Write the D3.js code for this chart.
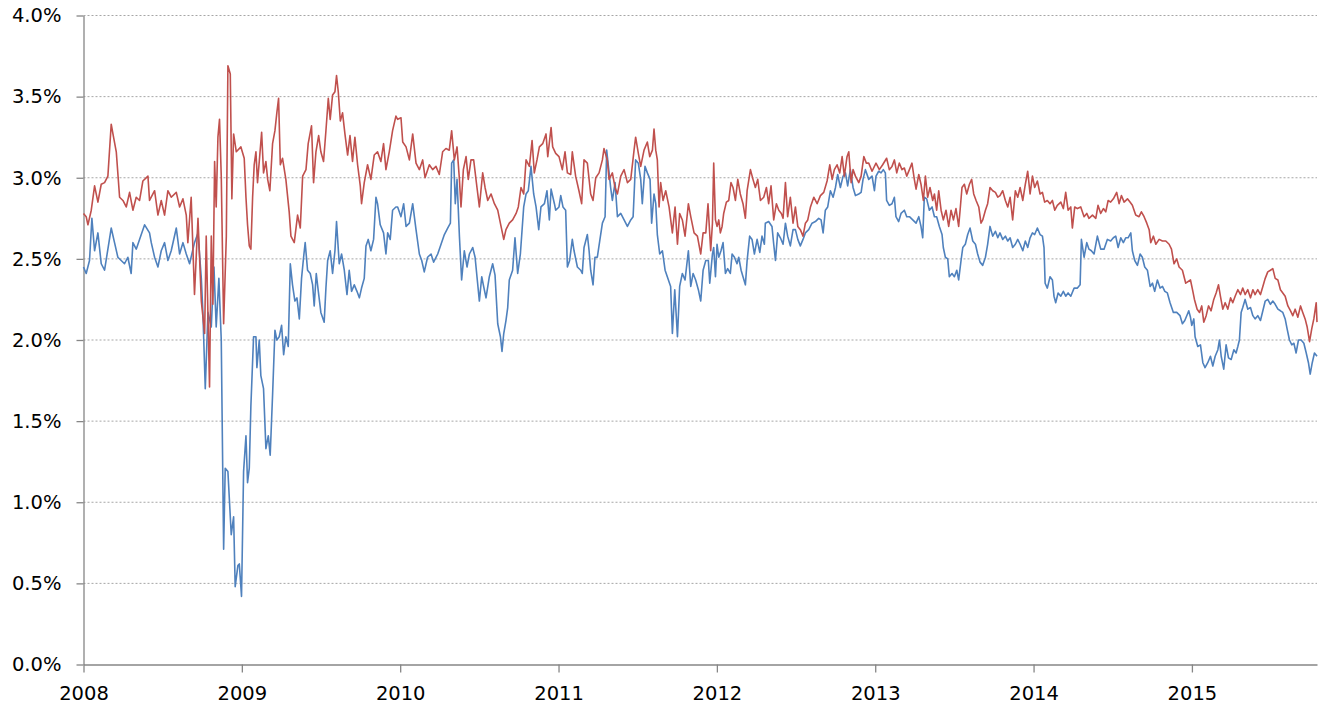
<!DOCTYPE html>
<html>
<head>
<meta charset="utf-8">
<script src="https://cdn.jsdelivr.net/npm/d3@7"></script>
<style>
  body { margin: 0; background: #fff; }
  .TickLabel { font-family: "DejaVu Sans", sans-serif; font-size: 19.5px; fill: #000; }
  .Grid { stroke: #a6a6a6; stroke-width: 1; stroke-dasharray: 2,2; }
</style>
</head>
<body>
<div id="ChartContainer"></div>
<script>
// x = decimal year, y = percent
var redSeries = [
  [2008.000,2.78],[2008.017,2.76],[2008.028,2.71],[2008.049,2.80],[2008.070,2.95],[2008.091,2.85],[2008.112,2.96],[2008.133,2.97],
  [2008.154,3.01],[2008.175,3.33],[2008.186,3.27],[2008.207,3.16],[2008.228,2.88],[2008.249,2.86],[2008.270,2.82],[2008.291,2.91],
  [2008.312,2.80],[2008.333,2.88],[2008.354,2.86],[2008.375,2.98],[2008.407,3.01],[2008.417,2.86],[2008.449,2.92],[2008.470,2.77],
  [2008.491,2.86],[2008.512,2.77],[2008.533,2.92],[2008.554,2.88],[2008.586,2.91],[2008.607,2.82],[2008.628,2.87],[2008.649,2.77],
  [2008.659,2.60],[2008.680,2.88],[2008.701,2.28],[2008.723,2.75],[2008.744,2.24],[2008.765,2.04],[2008.775,2.64],[2008.796,1.71],
  [2008.807,2.64],[2008.817,2.22],[2008.828,3.10],[2008.838,2.82],[2008.849,3.25],[2008.859,3.36],[2008.870,3.01],[2008.885,2.10],
  [2008.902,2.64],[2008.912,3.69],[2008.927,3.64],[2008.937,2.87],[2008.948,3.27],[2008.965,3.16],
  [2008.994,3.19],[2009.015,3.12],[2009.026,2.88],[2009.036,2.71],[2009.047,2.58],[2009.057,2.56],[2009.068,2.88],[2009.078,3.08],
  [2009.089,3.16],[2009.099,2.97],[2009.110,3.10],[2009.125,3.28],[2009.137,3.03],[2009.152,3.10],[2009.163,2.99],[2009.177,2.92],
  [2009.194,3.21],[2009.209,3.29],[2009.221,3.40],[2009.232,3.49],[2009.243,3.08],[2009.257,3.12],[2009.278,2.99],[2009.299,2.79],
  [2009.310,2.64],[2009.331,2.60],[2009.352,2.77],[2009.369,2.69],[2009.384,3.01],[2009.405,3.05],[2009.419,3.21],[2009.440,3.32],
  [2009.453,2.97],[2009.468,3.16],[2009.485,3.26],[2009.499,3.16],[2009.516,3.10],[2009.531,3.29],[2009.546,3.49],[2009.558,3.36],
  [2009.573,3.51],[2009.588,3.53],[2009.598,3.63],[2009.609,3.53],[2009.622,3.35],[2009.636,3.40],[2009.651,3.27],[2009.668,3.14],
  [2009.683,3.26],[2009.699,3.10],[2009.714,3.25],[2009.731,3.08],[2009.748,2.95],[2009.756,2.84],[2009.773,2.97],[2009.794,3.08],
  [2009.815,2.99],[2009.836,3.14],[2009.857,3.16],[2009.878,3.10],[2009.895,3.21],[2009.910,3.05],[2009.931,3.16],[2009.952,3.29],
  [2009.973,3.38],
  [2009.984,3.36],[2010.005,3.37],[2010.016,3.22],[2010.037,3.19],[2010.058,3.11],[2010.079,3.27],[2010.100,3.09],[2010.121,3.05],
  [2010.142,3.11],[2010.157,3.00],[2010.184,3.08],[2010.205,3.05],[2010.226,3.07],[2010.247,3.02],[2010.268,3.16],[2010.289,3.18],
  [2010.310,3.17],[2010.325,3.29],[2010.342,3.11],[2010.359,3.19],[2010.374,2.99],[2010.384,2.82],[2010.399,3.05],[2010.416,3.13],
  [2010.430,2.99],[2010.447,3.11],[2010.464,3.11],[2010.485,2.94],[2010.500,2.82],[2010.521,3.03],[2010.536,2.94],[2010.553,2.86],
  [2010.574,2.90],[2010.595,2.84],[2010.616,2.80],[2010.637,2.70],[2010.654,2.62],[2010.668,2.68],[2010.689,2.72],[2010.710,2.74],
  [2010.732,2.78],[2010.746,2.82],[2010.763,2.94],[2010.780,2.90],[2010.795,3.11],[2010.816,3.07],[2010.833,3.23],[2010.847,3.03],
  [2010.864,3.11],[2010.879,3.19],[2010.900,3.21],[2010.921,3.27],[2010.932,3.13],[2010.953,3.31],[2010.963,3.19],
  [2010.982,3.15],[2011.003,3.13],[2011.024,3.05],[2011.041,3.16],[2011.056,3.03],[2011.077,3.02],[2011.087,3.16],[2011.108,3.01],
  [2011.129,2.92],[2011.146,2.84],[2011.161,3.11],[2011.182,3.09],[2011.203,2.90],[2011.218,2.86],[2011.235,3.00],[2011.256,3.03],
  [2011.277,3.11],[2011.287,3.18],[2011.308,3.11],[2011.319,2.99],[2011.340,3.03],[2011.357,2.94],[2011.372,2.90],[2011.393,3.01],
  [2011.414,3.05],[2011.435,2.97],[2011.456,2.99],[2011.477,3.17],[2011.487,3.25],[2011.504,3.15],[2011.519,3.07],[2011.540,3.17],
  [2011.561,3.22],[2011.576,3.13],[2011.593,3.17],[2011.603,3.30],[2011.614,3.17],[2011.624,3.11],[2011.635,2.82],[2011.645,2.97],
  [2011.660,2.86],[2011.677,2.92],[2011.698,2.82],[2011.719,2.66],[2011.736,2.82],[2011.751,2.59],[2011.765,2.78],[2011.782,2.74],
  [2011.799,2.64],[2011.820,2.84],[2011.835,2.76],[2011.856,2.66],[2011.877,2.64],[2011.898,2.53],[2011.913,2.66],[2011.930,2.66],
  [2011.944,2.84],[2011.961,2.55],[2011.972,2.72],
  [2011.980,3.09],[2011.991,2.74],[2012.001,2.70],[2012.012,2.74],[2012.022,2.66],[2012.033,2.70],[2012.043,2.78],[2012.060,2.85],
  [2012.075,2.86],[2012.089,2.97],[2012.102,2.94],[2012.117,2.86],[2012.132,2.99],[2012.148,2.90],[2012.165,2.84],[2012.180,2.75],
  [2012.191,2.92],[2012.212,3.05],[2012.228,2.99],[2012.243,2.94],[2012.258,2.99],[2012.275,2.86],[2012.296,2.88],[2012.313,2.94],
  [2012.327,2.84],[2012.342,2.95],[2012.359,2.74],[2012.376,2.84],[2012.391,2.80],[2012.407,2.78],[2012.418,2.75],[2012.433,2.97],
  [2012.447,2.76],[2012.464,2.88],[2012.481,2.72],[2012.496,2.82],[2012.511,2.70],[2012.527,2.68],[2012.544,2.64],[2012.559,2.72],
  [2012.574,2.74],[2012.591,2.82],[2012.612,2.88],[2012.633,2.84],[2012.654,2.89],[2012.675,2.91],[2012.696,2.98],[2012.713,3.08],
  [2012.728,2.99],[2012.742,3.05],[2012.759,3.08],[2012.776,3.03],[2012.791,3.13],[2012.805,3.01],[2012.822,3.13],[2012.833,3.16],
  [2012.848,2.97],[2012.860,3.05],[2012.875,3.01],[2012.896,2.97],[2012.911,3.01],[2012.928,3.13],[2012.944,3.09],[2012.959,3.09],
  [2012.980,3.04],
  [2013.005,3.09],[2013.026,3.05],[2013.047,3.08],[2013.072,3.12],[2013.089,3.05],[2013.106,3.07],[2013.121,3.11],[2013.136,3.03],
  [2013.152,3.09],[2013.169,3.05],[2013.184,3.06],[2013.199,3.01],[2013.216,3.05],[2013.232,3.09],[2013.247,2.99],[2013.258,2.93],
  [2013.275,3.02],[2013.289,2.96],[2013.304,2.86],[2013.317,3.01],[2013.331,2.88],[2013.346,2.94],[2013.363,2.86],[2013.374,2.90],
  [2013.388,2.80],[2013.401,2.92],[2013.416,2.80],[2013.430,2.74],[2013.447,2.80],[2013.464,2.70],[2013.479,2.80],[2013.494,2.74],
  [2013.510,2.81],[2013.527,2.70],[2013.536,2.80],[2013.548,2.94],[2013.563,2.96],[2013.578,2.90],[2013.595,2.96],[2013.609,2.99],
  [2013.622,2.90],[2013.637,2.86],[2013.654,2.82],[2013.668,2.72],[2013.679,2.74],[2013.696,2.80],[2013.710,2.84],[2013.725,2.94],
  [2013.742,2.92],[2013.759,2.91],[2013.774,2.88],[2013.788,2.89],[2013.805,2.92],[2013.822,2.86],[2013.837,2.82],[2013.852,2.88],
  [2013.868,2.74],[2013.885,2.92],[2013.900,2.88],[2013.915,2.94],[2013.932,2.86],[2013.948,2.96],[2013.963,3.04],[2013.978,2.90],
  [2013.993,3.01],[2014.007,2.94],[2014.024,2.98],[2014.041,2.90],[2014.056,2.91],[2014.070,2.85],[2014.087,2.86],[2014.104,2.84],
  [2014.119,2.86],[2014.134,2.80],[2014.150,2.83],[2014.172,2.85],[2014.188,2.81],[2014.203,2.91],[2014.218,2.80],[2014.235,2.82],
  [2014.245,2.69],[2014.260,2.82],[2014.277,2.81],[2014.298,2.82],[2014.319,2.76],[2014.336,2.78],[2014.350,2.75],[2014.372,2.77],
  [2014.393,2.75],[2014.407,2.83],[2014.424,2.78],[2014.441,2.81],[2014.456,2.79],[2014.471,2.86],[2014.487,2.85],[2014.504,2.87],
  [2014.525,2.91],[2014.540,2.84],[2014.555,2.89],[2014.572,2.85],[2014.593,2.87],[2014.609,2.85],[2014.624,2.83],[2014.645,2.77],
  [2014.666,2.76],[2014.681,2.79],[2014.698,2.76],[2014.715,2.72],[2014.730,2.68],[2014.740,2.60],[2014.757,2.64],[2014.772,2.59],
  [2014.793,2.62],[2014.814,2.61],[2014.835,2.61],[2014.856,2.59],[2014.871,2.56],[2014.887,2.47],[2014.904,2.50],[2014.919,2.45],
  [2014.940,2.43],[2014.961,2.35],
  [2014.991,2.37],[2015.006,2.30],[2015.016,2.25],[2015.033,2.19],[2015.048,2.17],[2015.062,2.21],[2015.075,2.11],[2015.090,2.15],
  [2015.105,2.21],[2015.121,2.18],[2015.138,2.25],[2015.153,2.29],[2015.168,2.34],[2015.180,2.27],[2015.195,2.19],[2015.210,2.23],
  [2015.227,2.19],[2015.244,2.26],[2015.258,2.23],[2015.273,2.27],[2015.290,2.31],[2015.307,2.28],[2015.321,2.32],[2015.336,2.28],
  [2015.353,2.31],[2015.370,2.26],[2015.385,2.31],[2015.399,2.28],[2015.416,2.31],[2015.433,2.28],[2015.448,2.33],[2015.463,2.38],
  [2015.479,2.42],[2015.496,2.43],[2015.511,2.44],[2015.526,2.38],[2015.543,2.37],[2015.559,2.31],[2015.574,2.29],[2015.589,2.27],
  [2015.606,2.21],[2015.623,2.18],[2015.637,2.15],[2015.652,2.19],[2015.669,2.14],[2015.686,2.21],[2015.700,2.17],[2015.715,2.13],
  [2015.728,2.08],[2015.743,1.99],[2015.757,2.07],[2015.770,2.13],[2015.785,2.23],[2015.790,2.11]
]

var blueSeries = [
  [2008.000,2.45],[2008.017,2.41],[2008.038,2.49],[2008.053,2.75],[2008.070,2.55],[2008.091,2.66],[2008.112,2.47],[2008.133,2.43],
  [2008.154,2.56],[2008.175,2.69],[2008.196,2.60],[2008.217,2.51],[2008.238,2.49],[2008.259,2.47],[2008.280,2.51],[2008.301,2.41],
  [2008.312,2.60],[2008.333,2.56],[2008.354,2.62],[2008.386,2.71],[2008.417,2.66],[2008.428,2.60],[2008.449,2.51],[2008.470,2.45],
  [2008.491,2.55],[2008.512,2.60],[2008.533,2.49],[2008.554,2.55],[2008.586,2.69],[2008.607,2.53],[2008.628,2.60],[2008.649,2.53],
  [2008.670,2.47],[2008.701,2.60],[2008.723,2.66],[2008.744,2.38],[2008.754,2.17],[2008.769,1.70],[2008.786,2.17],[2008.807,2.08],
  [2008.824,2.45],[2008.838,2.08],[2008.855,2.38],[2008.870,2.00],[2008.885,0.71],[2008.895,1.21],[2008.912,1.19],[2008.933,0.80],
  [2008.948,0.91],[2008.958,0.48],[2008.975,0.61],
  [2008.984,0.62],[2008.998,0.42],[2009.011,1.19],[2009.026,1.41],[2009.036,1.12],[2009.047,1.21],[2009.057,1.59],[2009.074,2.02],
  [2009.089,2.02],[2009.095,1.83],[2009.110,2.00],[2009.120,1.78],[2009.137,1.70],[2009.152,1.33],[2009.167,1.41],[2009.179,1.29],
  [2009.194,1.66],[2009.209,2.06],[2009.221,2.00],[2009.236,2.02],[2009.251,2.09],[2009.264,1.91],[2009.278,2.02],[2009.293,1.96],
  [2009.306,2.47],[2009.320,2.34],[2009.335,2.24],[2009.348,2.26],[2009.363,2.13],[2009.377,2.38],[2009.390,2.51],[2009.400,2.60],
  [2009.415,2.43],[2009.432,2.41],[2009.447,2.34],[2009.457,2.21],[2009.470,2.41],[2009.483,2.30],[2009.499,2.17],[2009.520,2.11],
  [2009.531,2.32],[2009.542,2.49],[2009.558,2.55],[2009.573,2.41],[2009.588,2.55],[2009.598,2.73],[2009.615,2.47],[2009.630,2.53],
  [2009.647,2.43],[2009.664,2.28],[2009.678,2.43],[2009.693,2.30],[2009.710,2.34],[2009.727,2.30],[2009.742,2.26],[2009.756,2.32],
  [2009.773,2.38],[2009.784,2.58],[2009.798,2.62],[2009.815,2.55],[2009.832,2.62],[2009.847,2.88],[2009.857,2.84],[2009.874,2.71],
  [2009.895,2.66],[2009.910,2.53],[2009.921,2.66],[2009.937,2.62],[2009.952,2.80],[2009.973,2.82],
  [2009.984,2.82],[2010.005,2.76],[2010.022,2.84],[2010.037,2.70],[2010.058,2.72],[2010.079,2.84],[2010.100,2.68],[2010.121,2.53],
  [2010.136,2.49],[2010.152,2.42],[2010.173,2.51],[2010.195,2.53],[2010.211,2.48],[2010.237,2.53],[2010.258,2.59],[2010.279,2.65],
  [2010.300,2.69],[2010.317,2.72],[2010.325,3.09],[2010.338,3.11],[2010.348,2.84],[2010.359,2.99],[2010.374,2.64],[2010.388,2.37],
  [2010.405,2.55],[2010.422,2.45],[2010.437,2.53],[2010.458,2.57],[2010.473,2.51],[2010.489,2.35],[2010.500,2.24],[2010.515,2.39],
  [2010.527,2.33],[2010.542,2.26],[2010.563,2.39],[2010.584,2.47],[2010.599,2.40],[2010.616,2.10],[2010.633,2.02],[2010.643,1.93],
  [2010.654,2.04],[2010.668,2.12],[2010.679,2.20],[2010.689,2.37],[2010.710,2.43],[2010.725,2.63],[2010.742,2.41],[2010.759,2.53],
  [2010.780,2.82],[2010.795,2.90],[2010.809,2.92],[2010.826,3.07],[2010.843,2.90],[2010.858,2.82],[2010.875,2.68],[2010.889,2.82],
  [2010.911,2.84],[2010.927,2.92],[2010.942,2.74],[2010.953,2.93],[2010.974,2.84],
  [2010.982,2.80],[2011.003,2.82],[2011.014,2.89],[2011.028,2.82],[2011.045,2.80],[2011.056,2.45],[2011.070,2.49],[2011.087,2.62],
  [2011.098,2.55],[2011.119,2.45],[2011.140,2.43],[2011.150,2.41],[2011.161,2.57],[2011.182,2.65],[2011.193,2.55],[2011.203,2.43],
  [2011.218,2.34],[2011.230,2.51],[2011.245,2.51],[2011.260,2.61],[2011.277,2.72],[2011.294,2.76],[2011.304,3.17],[2011.315,3.07],
  [2011.329,2.94],[2011.340,2.86],[2011.357,2.97],[2011.372,2.76],[2011.393,2.78],[2011.414,2.74],[2011.435,2.70],[2011.456,2.74],
  [2011.471,2.76],[2011.487,3.11],[2011.504,3.09],[2011.519,2.99],[2011.529,2.84],[2011.546,3.07],[2011.561,3.03],[2011.578,2.99],
  [2011.588,2.72],[2011.603,2.90],[2011.614,2.84],[2011.624,2.65],[2011.639,2.53],[2011.656,2.55],[2011.673,2.43],[2011.687,2.39],
  [2011.708,2.33],[2011.719,2.04],[2011.734,2.31],[2011.751,2.02],[2011.765,2.33],[2011.782,2.41],[2011.799,2.37],[2011.820,2.55],
  [2011.835,2.33],[2011.850,2.41],[2011.866,2.37],[2011.883,2.31],[2011.898,2.24],[2011.913,2.43],[2011.930,2.49],[2011.946,2.49],
  [2011.955,2.35],[2011.972,2.53],
  [2011.980,2.57],[2011.991,2.39],[2012.001,2.59],[2012.012,2.51],[2012.026,2.55],[2012.039,2.60],[2012.054,2.41],[2012.068,2.44],
  [2012.085,2.41],[2012.096,2.53],[2012.111,2.51],[2012.127,2.47],[2012.138,2.51],[2012.153,2.43],[2012.165,2.39],[2012.180,2.34],
  [2012.191,2.49],[2012.207,2.64],[2012.222,2.62],[2012.237,2.53],[2012.254,2.62],[2012.271,2.54],[2012.285,2.64],[2012.300,2.59],
  [2012.306,2.72],[2012.327,2.73],[2012.348,2.70],[2012.359,2.59],[2012.370,2.49],[2012.384,2.66],[2012.401,2.63],[2012.418,2.59],
  [2012.433,2.72],[2012.447,2.64],[2012.464,2.58],[2012.481,2.68],[2012.496,2.68],[2012.511,2.62],[2012.527,2.58],[2012.544,2.62],
  [2012.559,2.66],[2012.580,2.68],[2012.601,2.72],[2012.622,2.73],[2012.643,2.75],[2012.658,2.74],[2012.671,2.66],[2012.685,2.80],
  [2012.700,2.82],[2012.717,2.92],[2012.734,2.88],[2012.749,2.94],[2012.763,3.02],[2012.780,2.94],[2012.797,3.01],[2012.812,3.03],
  [2012.826,2.95],[2012.843,3.05],[2012.860,2.94],[2012.875,2.89],[2012.896,2.90],[2012.911,2.91],[2012.923,2.99],[2012.938,3.05],
  [2012.959,2.99],[2012.980,3.01],
  [2012.995,2.92],[2013.005,3.01],[2013.022,3.04],[2013.037,3.03],[2013.051,3.05],[2013.064,3.03],[2013.072,2.86],[2013.089,2.83],
  [2013.106,2.84],[2013.121,2.88],[2013.131,2.76],[2013.148,2.73],[2013.163,2.78],[2013.184,2.80],[2013.199,2.76],[2013.216,2.76],
  [2013.237,2.74],[2013.258,2.72],[2013.275,2.76],[2013.289,2.70],[2013.300,2.63],[2013.310,2.88],[2013.325,2.87],[2013.342,2.80],
  [2013.359,2.82],[2013.374,2.76],[2013.388,2.76],[2013.405,2.70],[2013.422,2.65],[2013.430,2.57],[2013.443,2.51],[2013.458,2.50],
  [2013.468,2.39],[2013.485,2.41],[2013.500,2.39],[2013.515,2.43],[2013.527,2.37],[2013.542,2.49],[2013.553,2.57],[2013.569,2.59],
  [2013.584,2.65],[2013.599,2.69],[2013.616,2.61],[2013.633,2.59],[2013.647,2.53],[2013.662,2.48],[2013.679,2.46],[2013.696,2.51],
  [2013.710,2.59],[2013.725,2.70],[2013.742,2.64],[2013.759,2.67],[2013.774,2.63],[2013.788,2.66],[2013.805,2.62],[2013.822,2.64],
  [2013.837,2.61],[2013.852,2.63],[2013.868,2.57],[2013.885,2.59],[2013.900,2.62],[2013.915,2.59],[2013.932,2.55],[2013.948,2.61],
  [2013.963,2.57],[2013.978,2.63],
  [2013.993,2.66],[2014.007,2.65],[2014.024,2.69],[2014.041,2.65],[2014.056,2.64],[2014.066,2.57],[2014.073,2.35],[2014.087,2.32],
  [2014.104,2.39],[2014.119,2.37],[2014.129,2.27],[2014.140,2.23],[2014.155,2.29],[2014.172,2.27],[2014.188,2.30],[2014.203,2.27],
  [2014.218,2.29],[2014.235,2.27],[2014.256,2.32],[2014.277,2.32],[2014.294,2.34],[2014.302,2.62],[2014.319,2.51],[2014.336,2.60],
  [2014.350,2.56],[2014.365,2.55],[2014.382,2.53],[2014.403,2.64],[2014.424,2.56],[2014.445,2.56],[2014.466,2.62],[2014.487,2.61],
  [2014.504,2.63],[2014.519,2.64],[2014.534,2.57],[2014.551,2.63],[2014.567,2.60],[2014.582,2.63],[2014.597,2.63],[2014.614,2.66],
  [2014.624,2.55],[2014.639,2.49],[2014.656,2.46],[2014.673,2.53],[2014.687,2.51],[2014.702,2.45],[2014.719,2.43],[2014.736,2.33],
  [2014.751,2.35],[2014.765,2.30],[2014.782,2.37],[2014.799,2.32],[2014.814,2.33],[2014.829,2.30],[2014.845,2.29],[2014.862,2.23],
  [2014.883,2.17],[2014.904,2.17],[2014.925,2.15],[2014.940,2.10],[2014.955,2.12],[2014.972,2.16],
  [2014.980,2.18],[2014.991,2.14],[2014.999,2.09],[2015.012,2.13],[2015.020,2.02],[2015.037,1.96],[2015.054,1.97],[2015.069,1.86],
  [2015.083,1.83],[2015.100,1.86],[2015.117,1.90],[2015.132,1.84],[2015.147,1.90],[2015.164,1.94],[2015.174,2.00],[2015.185,1.90],
  [2015.201,1.82],[2015.216,1.97],[2015.231,1.89],[2015.248,1.88],[2015.265,1.94],[2015.279,1.92],[2015.290,1.96],[2015.300,2.00],
  [2015.311,2.17],[2015.321,2.20],[2015.336,2.25],[2015.353,2.19],[2015.370,2.20],[2015.385,2.15],[2015.399,2.13],[2015.416,2.15],
  [2015.433,2.12],[2015.448,2.18],[2015.463,2.24],[2015.479,2.25],[2015.496,2.22],[2015.511,2.24],[2015.526,2.22],[2015.543,2.19],
  [2015.559,2.18],[2015.574,2.17],[2015.589,2.13],[2015.601,2.07],[2015.616,2.00],[2015.631,1.97],[2015.644,1.98],[2015.658,1.92],
  [2015.673,2.00],[2015.690,2.00],[2015.707,1.98],[2015.722,1.92],[2015.736,1.86],[2015.747,1.79],[2015.760,1.86],[2015.774,1.92],
  [2015.790,1.90]
]

var yearTicks = [2008, 2009, 2010, 2011, 2012, 2013, 2014, 2015]
var percentTicks = [0, 0.5, 1, 1.5, 2, 2.5, 3, 3.5, 4]

var fullWidth = 1325
var fullHeight = 713
var plotLeft = 83.5
var plotRight = 1317
var plotTop = 15.5
var plotBottom = 664.5
var axisColor = "#868686"

var svg = d3.select("#ChartContainer").append("svg")
  .attr("width", fullWidth)
  .attr("height", fullHeight)

var x = d3.scaleLinear()
  .domain([2008, 2015.79])
  .range([plotLeft, plotRight])
var y = d3.scaleLinear()
  .domain([0, 4])
  .range([plotBottom, plotTop])

// dotted gridlines
svg.append("g").selectAll("line")
  .data(percentTicks.filter(d => d > 0))
  .enter().append("line")
  .attr("class", "Grid")
  .attr("x1", plotLeft)
  .attr("x2", plotRight)
  .attr("y1", d => y(d))
  .attr("y2", d => y(d))

// y-axis
var yAxis = svg.append("g")
  .attr("transform", `translate(${plotLeft},0)`)
  .call(d3.axisLeft(y)
    .tickValues(percentTicks)
    .tickSize(7)
    .tickSizeOuter(0)
    .tickPadding(15)
    .tickFormat(d => d.toFixed(1) + "%"))
yAxis.select(".domain").attr("stroke", axisColor).attr("stroke-width", 1.3)
yAxis.selectAll(".tick line").attr("stroke", axisColor).attr("stroke-width", 1.3)
yAxis.selectAll(".tick text").attr("class", "TickLabel")

// x-axis
var xAxis = svg.append("g")
  .attr("transform", `translate(0,${plotBottom})`)
  .call(d3.axisBottom(x)
    .tickValues(yearTicks)
    .tickSize(8)
    .tickSizeOuter(0)
    .tickPadding(14)
    .tickFormat(d => d))
xAxis.select(".domain").attr("stroke", axisColor).attr("stroke-width", 1.3)
xAxis.selectAll(".tick line").attr("stroke", axisColor).attr("stroke-width", 1.3)
xAxis.selectAll(".tick text").attr("class", "TickLabel")

var line = d3.line()
  .x(d => x(d[0]))
  .y(d => y(d[1]))

// blue first, red drawn over it
svg.append("path")
  .datum(blueSeries)
  .attr("fill", "none")
  .attr("stroke", "#4f81bd")
  .attr("stroke-width", 1.6)
  .attr("stroke-linejoin", "round")
  .attr("d", line)

svg.append("path")
  .datum(redSeries)
  .attr("fill", "none")
  .attr("stroke", "#c0504d")
  .attr("stroke-width", 1.6)
  .attr("stroke-linejoin", "round")
  .attr("d", line)
</script>
</body>
</html>
